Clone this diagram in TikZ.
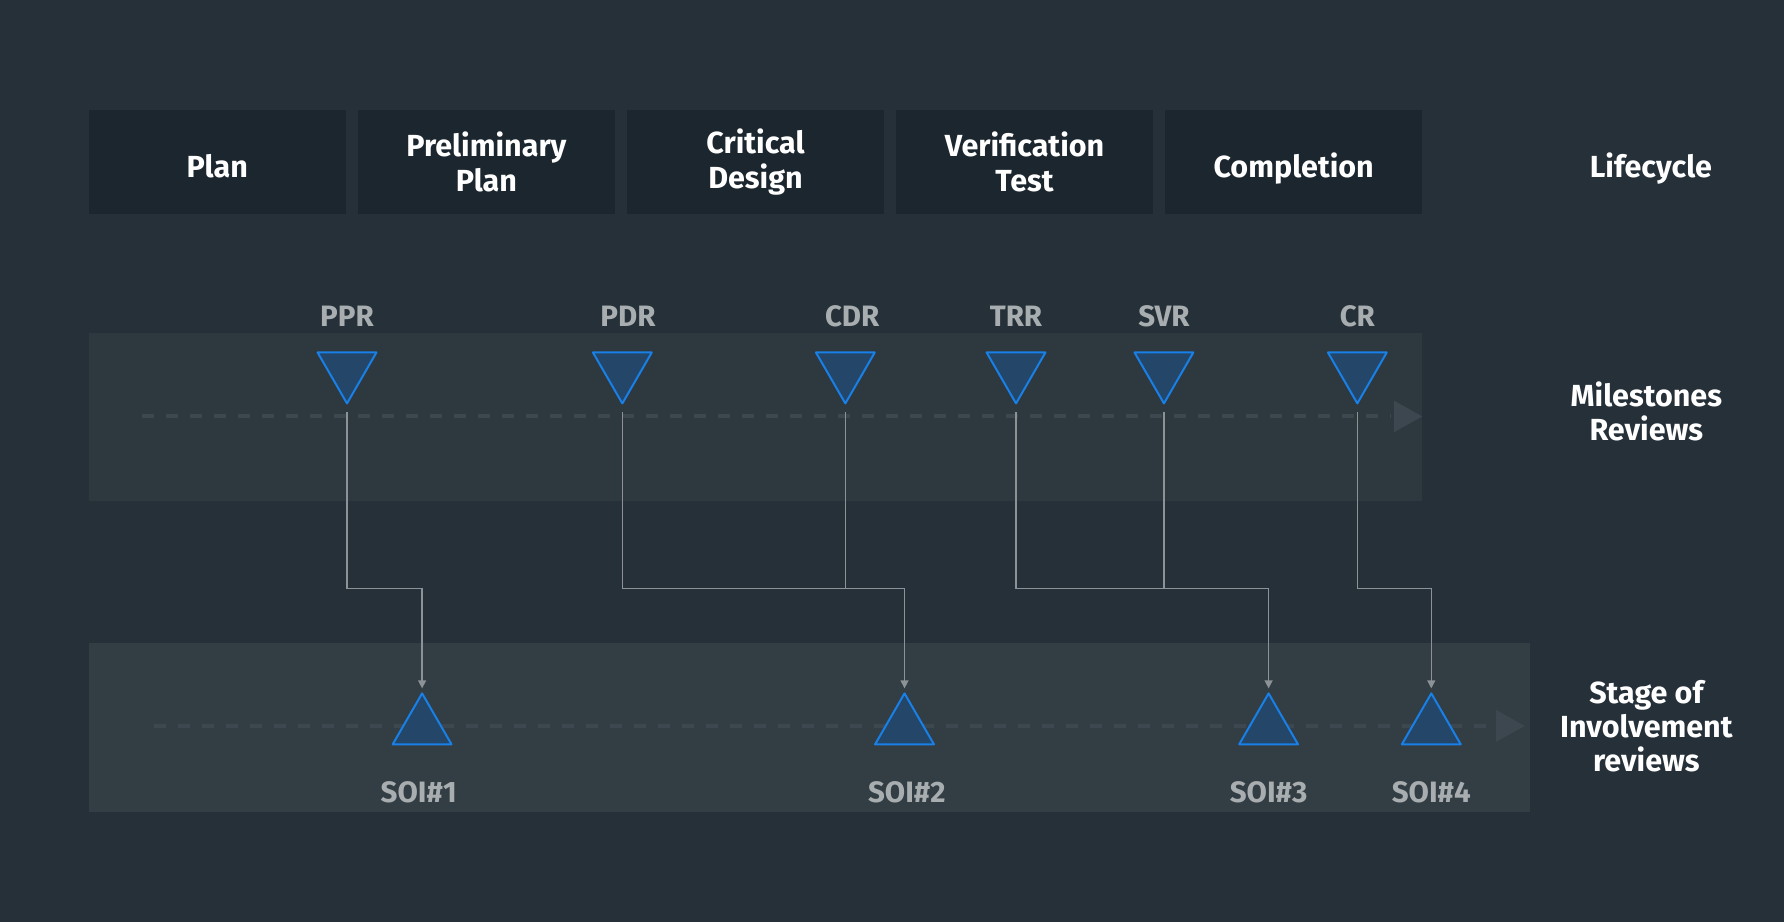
\documentclass[tikz,border=0pt]{standalone}
\usepackage{fontspec}
\setmainfont{Fira Sans}
\usetikzlibrary{shapes.geometric,arrows.meta}
\definecolor{bgdark}{RGB}{37,48,57}
\definecolor{boxdark}{RGB}{27,38,46}
\definecolor{bandtop}{RGB}{46,56,63}
\definecolor{bandlow}{RGB}{51,61,68}
\definecolor{dashgrey}{RGB}{60,71,79}
\definecolor{labelgrey}{RGB}{168,173,176}
\definecolor{linegrey}{RGB}{140,146,150}
\definecolor{triblue}{RGB}{24,128,230}
\definecolor{trifill}{RGB}{36,70,104}
\begin{document}
\begin{tikzpicture}[x=1.1378pt,y=-1.1378pt,
			every node/.style={font=\bfseries\fontsize{30.5}{34}\selectfont, inner sep=0},
			stage/.style={fill=boxdark, text=white, align=center, minimum width=257pt, minimum height=103.5pt, font=\bfseries\fontsize{30.5}{35}\selectfont},
			oneline/.style={text height=31pt, text depth=0pt},
			rowname/.style={text=white, align=center},
			review/.style={text=labelgrey, font=\bfseries\fontsize{29.5}{34}\selectfont},
			milestone/.style={regular polygon, regular polygon sides=3, shape border rotate=180, draw=triblue, fill=trifill, line width=2pt, line join=round, minimum size=68pt},
			soi/.style={regular polygon, regular polygon sides=3, draw=triblue, fill=trifill, line width=2pt, line join=round, minimum size=68pt},
			axis/.style={dashgrey, line width=4pt, dash pattern=on 12pt off 12pt},
			link/.style={linegrey, line width=1.3pt, shorten <=7pt},
			linkarrow/.style={link, -{Triangle[width=8pt,length=8pt]}, shorten >=3pt},
		]
		% background and bands
		\fill[bgdark] (0,0) rectangle (1568,810);
		\fill[bandtop] (78,293) rectangle (1250,440);
		\fill[bandlow] (78,565) rectangle (1345,714);
		\draw[axis] (125,366) -- (1222,366);
		\fill[dashgrey] (1225,352) -- (1250,366) -- (1225,380) -- cycle;
		\draw[axis] (135,638) -- (1312,638);
		\fill[dashgrey] (1315,624) -- (1340,638) -- (1315,652) -- cycle;

		% lifecycle
		\node[stage,oneline] (plan) at (191,142.5) {Plan};
		\node[stage] (prelim) at (427.5,142.5) {Preliminary\\Plan};
		\node[stage] (design) at (664,142.5) {Critical\\Design};
		\node[stage] (verif) at (900.5,142.5) {Verification\\Test};
		\node[stage,oneline] (compl) at (1137,142.5) {Completion};
		\node[rowname] (lifecycle) at (1451,148) {Lifecycle};
		\node[rowname] (milestones) at (1447,362) {Milestones\\Reviews};
		\node[rowname] (involvement) at (1447,638) {Stage of\\Involvement\\reviews};

		% milestone reviews
		\node[review] (pprlabel) at (305,278) {PPR};
		\node[review] (pdrlabel) at (552,278) {PDR};
		\node[review] (cdrlabel) at (749,278) {CDR};
		\node[review] (trrlabel) at (893,278) {TRR};
		\node[review] (svrlabel) at (1023,278) {SVR};
		\node[review] (crlabel) at (1193,278) {CR};
		\node[milestone] (ppr) at (305,324.7) {};
		\node[milestone] (pdr) at (547,324.7) {};
		\node[milestone] (cdr) at (743,324.7) {};
		\node[milestone] (trr) at (893,324.7) {};
		\node[milestone] (svr) at (1023,324.7) {};
		\node[milestone] (cr) at (1193,324.7) {};

		% stage of involvement
		\node[soi] (soi1) at (371,639.3) {};
		\node[soi] (soi2) at (795,639.3) {};
		\node[soi] (soi3) at (1115,639.3) {};
		\node[soi] (soi4) at (1258,639.3) {};
		\node[review] (soi1label) at (368,696) {SOI\#1};
		\node[review] (soi2label) at (797,696) {SOI\#2};
		\node[review] (soi3label) at (1115,696) {SOI\#3};
		\node[review] (soi4label) at (1258,696) {SOI\#4};

		% connectors
		\coordinate (bus) at (0,517);
		\draw[linkarrow] (ppr.south) -- (ppr.south |- bus) -| (soi1.north);
		\draw[linkarrow] (pdr.south) -- (pdr.south |- bus) -| (soi2.north);
		\draw[link] (cdr.south) -- (cdr.south |- bus);
		\draw[linkarrow] (trr.south) -- (trr.south |- bus) -| (soi3.north);
		\draw[link] (svr.south) -- (svr.south |- bus);
		\draw[linkarrow] (cr.south) -- (cr.south |- bus) -| (soi4.north);
\end{tikzpicture}
\end{document}
